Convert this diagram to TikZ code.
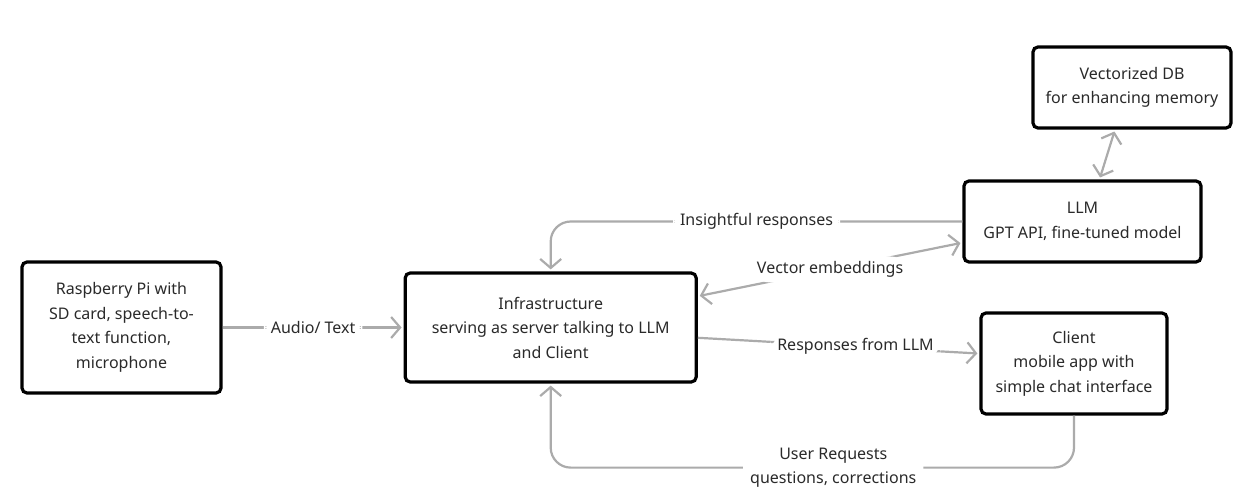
\documentclass[tikz,border=0pt]{standalone}
\usepackage{fontspec}
\setmainfont{Noto Sans}
\usepackage{tikz}
\usetikzlibrary{positioning, arrows.meta}
\usepackage{xcolor}
\definecolor{linegray}{HTML}{ABABAB}
\definecolor{textgray}{HTML}{2A2A2A}

\begin{document}
\begin{tikzpicture}[
    x=1pt, y=-1pt,
    font=\fontsize{16}{24.5}\selectfont,
    box/.style={rectangle, draw=black, line width=3.2pt, fill=white, text=textgray, align=center, rounded corners=5pt, inner sep=0pt},
    arrow/.style={-{Straight Barb[length=9pt, width=21pt]}, line width=2.2pt, draw=linegray, rounded corners=20pt, shorten >=2pt},
    dblarrow/.style={arrow, {Straight Barb[length=9pt, width=21pt]}-{Straight Barb[length=9pt, width=21pt]}, shorten <=2pt},
    lbl/.style={fill=white, text=textgray, align=center, inner xsep=7pt, inner ysep=5pt}
]
\useasboundingbox (0,0) rectangle (1237,500);

% Raspberry Pi
\node (pi) [box, minimum width=199pt, minimum height=131pt] at (121.5,327.5) {
    Raspberry Pi with\\SD card, speech-to-\\text function,\\microphone
};

% Infrastructure
\node (infra) [box, minimum width=291pt, minimum height=109pt, right=181pt of pi] {
    Infrastructure\\serving as server talking to LLM\\and Client
};

% LLM
\node (llm) [box, minimum width=237pt, minimum height=81pt] at (1082.5,221.5) {
    LLM\\GPT API, fine-tuned model
};

% Vector DB
\node (vdb) [box, minimum width=198pt, minimum height=81pt] at (1132,87.5) {
    Vectorized DB\\for enhancing memory
};

% Client
\node (client) [box, minimum width=186pt, minimum height=101pt] at (1074,363.5) {
    Client\\mobile app with\\simple chat interface
};

% Connecting Arrows
\draw [arrow] (pi) -- node [lbl] {Audio/ Text} (infra);
\draw [arrow] (llm.west) -| node [lbl, pos=0.25] {Insightful responses} (infra.north);
\draw [dblarrow] (infra.12) -- node [lbl] {Vector embeddings} (llm.190);
\draw [arrow] (infra.356) -- node [lbl, pos=0.56] {Responses from LLM} (client.174);
\draw [dblarrow] (vdb.248) -- (llm.68);
\draw [arrow] (client.south) -- ++(0,52) -| node [lbl, pos=0.23, inner ysep=2pt] {User Requests\\questions, corrections} (infra.south);

\end{tikzpicture}
\end{document}
